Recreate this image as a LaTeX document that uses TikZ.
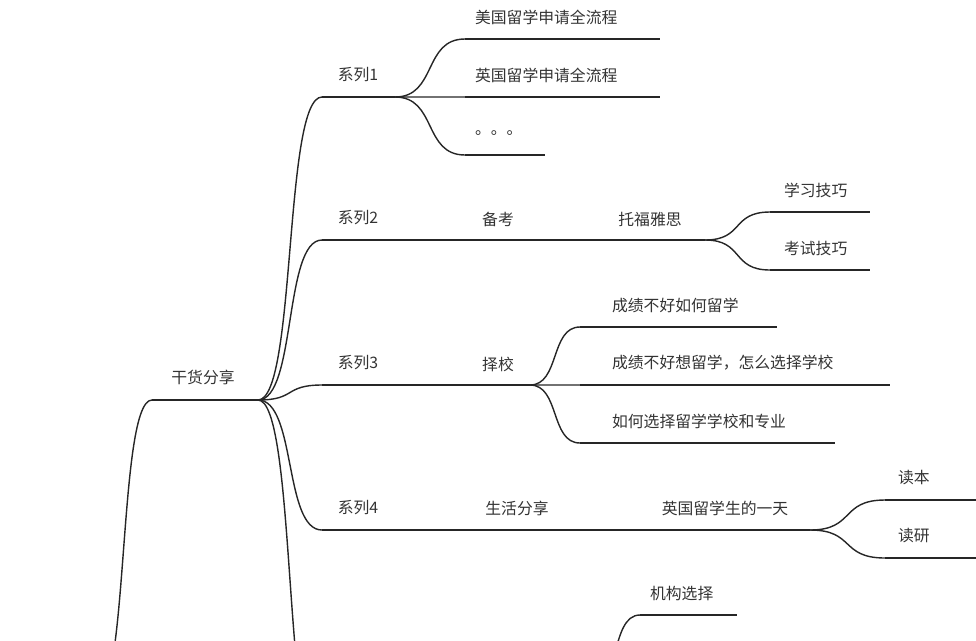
\documentclass[tikz,border=0pt]{standalone}
\usepackage{fontspec}
\usetikzlibrary{calc}
\newfontfamily\cjk{Noto Sans CJK SC}
\begin{document}
\begin{tikzpicture}[x=0.02cm,y=-0.02cm,
  branch/.style={draw=black!85, line width=0.8pt},
  lbl/.style={font=\cjk\fontsize{9}{11}\selectfont, text=black!80, inner sep=1pt},
  curvy/.style={branch, to path={.. controls ($(\tikztostart)!0.6!(\tikztotarget|-\tikztostart)$)
    and ($(\tikztotarget)!0.6!(\tikztostart|-\tikztotarget)$) .. (\tikztotarget)}}]
\useasboundingbox (0,0) rectangle (976,640);
\clip (0,0) rectangle (976,640);

% root
\coordinate (r0) at (95,700);
\coordinate (ra) at (152,400);
\coordinate (rb) at (258,400);
\node[lbl] (root) at (203,377) {干货分享};
\draw[branch] (ra) -- (rb);
\draw[curvy] (r0) to (ra);

% series
\foreach \n/\y in {1/97,2/240,3/385,4/530}{
  \coordinate (s\n a) at (322,\y);
  \coordinate (s\n b) at (395,\y);
  \node[lbl] (s\n) at (358,\y-22) {系列\n};
  \draw[branch] (s\n a) -- (s\n b);
  \draw[curvy] (rb) to (s\n a);
}
\coordinate (s5a) at (322,760);
\draw[curvy] (rb) to (s5a);

% series 1
\foreach \i/\y/\e/\t in {1/39/660/美国留学申请全流程,2/97/660/英国留学申请全流程,3/155/545/。。。}{
  \coordinate (a\i a) at (465,\y);
  \coordinate (a\i b) at (\e,\y);
  \node[lbl, anchor=west] (a\i) at (473,\y-22) {\t};
  \draw[branch] (a\i a) -- (a\i b);
  \draw[curvy] (s1b) to (a\i a);
}

% series 2
\coordinate (b1) at (540,240);
\coordinate (b2) at (705,240);
\node[lbl] (bk) at (498,219) {备考};
\node[lbl] (tf) at (650,219) {托福雅思};
\draw[branch] (s2b) -- (b1) -- (b2);
\foreach \i/\y/\t in {1/212/学习技巧,2/270/考试技巧}{
  \coordinate (c\i a) at (770,\y);
  \coordinate (c\i b) at (870,\y);
  \node[lbl, anchor=west] (c\i) at (782,\y-22) {\t};
  \draw[branch] (c\i a) -- (c\i b);
  \draw[curvy] (b2) to (c\i a);
}

% series 3
\coordinate (d1) at (530,385);
\node[lbl] (zx) at (498,364) {择校};
\draw[branch] (s3b) -- (d1);
\foreach \i/\y/\e/\t in {1/327/777/成绩不好如何留学,2/385/890/成绩不好想留学，怎么选择学校,3/443/835/如何选择留学学校和专业}{
  \coordinate (e\i a) at (580,\y);
  \coordinate (e\i b) at (\e,\y);
  \node[lbl, anchor=west] (e\i) at (610,\y-22) {\t};
  \draw[branch] (e\i a) -- (e\i b);
  \draw[curvy] (d1) to (e\i a);
}

% series 4
\coordinate (f1) at (560,530);
\coordinate (f2) at (810,530);
\node[lbl] (sh) at (517,508) {生活分享};
\node[lbl] (yt) at (725,508) {英国留学生的一天};
\draw[branch] (s4b) -- (f1) -- (f2);
\foreach \i/\y/\t in {1/500/读本,2/558/读研}{
  \coordinate (g\i a) at (885,\y);
  \coordinate (g\i b) at (980,\y);
  \node[lbl, anchor=west] (g\i) at (896,\y-22) {\t};
  \draw[branch] (g\i a) -- (g\i b);
  \draw[curvy] (f2) to (g\i a);
}

% series 5 (partly visible)
\coordinate (h0) at (590,690);
\coordinate (h1a) at (640,615);
\coordinate (h1b) at (737,615);
\node[lbl, anchor=west] (h1) at (648,593) {机构选择};
\draw[branch] (h1a) -- (h1b);
\draw[curvy] (h0) to (h1a);
\end{tikzpicture}
\end{document}
